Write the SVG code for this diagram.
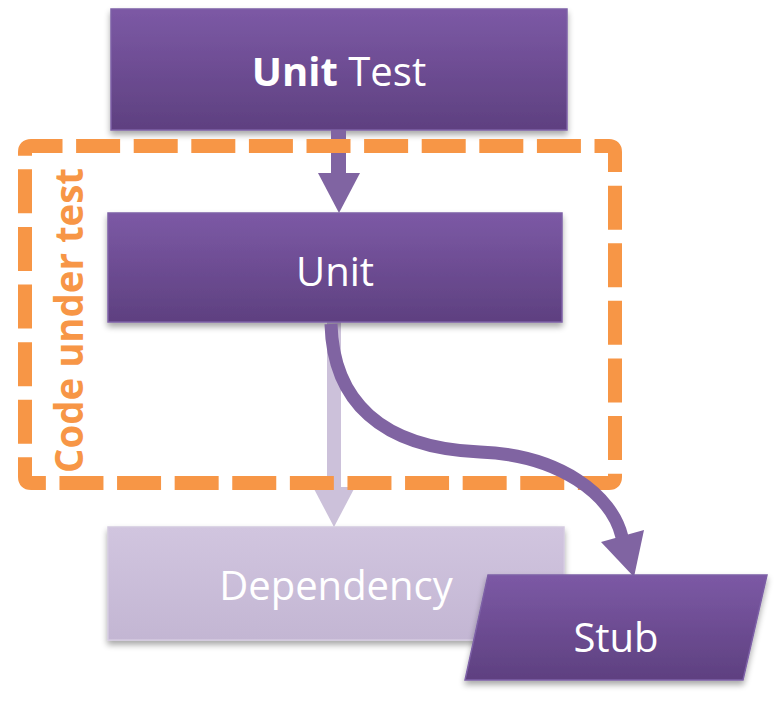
<svg xmlns="http://www.w3.org/2000/svg" width="780" height="703" viewBox="0 0 780 703">
<defs>
  <linearGradient id="gPurple" x1="0" y1="0" x2="0" y2="1">
    <stop offset="0" stop-color="#7C59A5"/>
    <stop offset="1" stop-color="#5E4080"/>
  </linearGradient>
  <linearGradient id="gLight" x1="0" y1="0" x2="0" y2="1">
    <stop offset="0" stop-color="#D1C5DF"/>
    <stop offset="1" stop-color="#C3B6D3"/>
  </linearGradient>
  <filter id="shadow" x="-10%" y="-10%" width="120%" height="130%">
    <feGaussianBlur in="SourceAlpha" stdDeviation="3"/>
    <feOffset dx="0" dy="4" result="b"/>
    <feComponentTransfer><feFuncA type="linear" slope="0.35"/></feComponentTransfer>
    <feMerge><feMergeNode/><feMergeNode in="SourceGraphic"/></feMerge>
  </filter>
  <style>
    .box { fill: url(#gPurple); stroke: #7D60A6; stroke-width: 1.5; filter: url(#shadow); }
    .light { fill: url(#gLight); stroke: #D4CAE0; stroke-width: 1.5; filter: url(#shadow); }
    .lbl { font-family: "Open Sans", "Noto Sans", "DejaVu Sans", sans-serif; font-size: 40px; fill: #FFFFFF; text-anchor: middle; }
    .conn { fill: #8064A2; }
    .connLight { fill: #CCC1DA; }
    .dash { fill: none; stroke: #F79646; stroke-width: 14; stroke-dasharray: 44 13.6; }
    .code { font-family: "Open Sans", "Noto Sans", "DejaVu Sans", sans-serif; font-size: 39px; font-weight: bold; fill: #F79646; }
  </style>
</defs>

<g id="node-unit-test">
  <rect class="box" x="111" y="9" width="456" height="121"/>
  <text class="lbl" x="339" y="86"><tspan font-weight="bold">Unit</tspan> Test</text>
</g>

<g id="connectors-under">
  <rect class="conn" x="331" y="130" width="15" height="44"/>
  <polygon class="conn" points="318,173 360,173 339,213"/>
  <rect class="connLight" x="327" y="322" width="14" height="166"/>
  <polygon class="connLight" points="313,487 355,487 334,527"/>
</g>

<g id="node-unit">
  <rect class="box" x="108" y="213" width="454" height="109"/>
  <text class="lbl" x="335" y="286">Unit</text>
</g>

<g id="node-dependency">
  <rect class="light" x="108" y="527" width="456" height="113"/>
  <text class="lbl" x="336" y="600">Dependency</text>
</g>

<g id="group-code-under-test">
  <path class="dash" d="M25,155 L25,152 Q25,146 31,146 L609,146 Q615,146 615,152 L615,477 Q615,483 609,483 L31,483 Q25,483 25,477 Z"/>
  <text class="code" transform="translate(83,473) rotate(-90)" textLength="305" lengthAdjust="spacingAndGlyphs">Code under test</text>
</g>

<g id="connectors">
  <path d="M331,324 C333,400 380,448 480,452 C560,455 612,495 622,537" fill="none" stroke="#8064A2" stroke-width="13"/>
  <polygon class="conn" points="601,542 644,530 634,577"/>
</g>

<g id="node-stub">
  <polygon class="box" points="488,575 767,575 743,680 465,680"/>
  <text class="lbl" x="616" y="652">Stub</text>
</g>
</svg>
